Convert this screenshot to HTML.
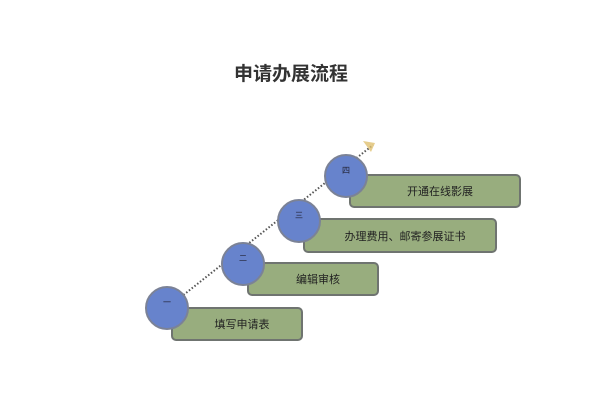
<!DOCTYPE html>
<html><head><meta charset="utf-8"><style>
html,body{margin:0;padding:0;background:#fff;}
body{width:615px;height:415px;position:relative;overflow:hidden;font-family:"Liberation Sans","Noto Sans CJK SC",sans-serif;}
.t{position:absolute;left:234px;top:59px;font-size:19px;font-weight:bold;color:#333;letter-spacing:0px;}
.b{position:absolute;background:#98ad7e;border:2px solid #6f7470;border-radius:5px;box-sizing:border-box;font-size:11px;color:#222;display:flex;align-items:center;justify-content:center;}
.c{position:absolute;width:44px;height:44px;border-radius:50%;background:#6783cc;border:2px solid #7b8296;box-sizing:border-box;font-size:8px;color:#223;text-align:center;}
</style></head><body>
<div class="t">申请办展流程</div>
<svg width="615" height="415" style="position:absolute;left:0;top:0">
<line x1="167" y1="308" x2="373" y2="145" stroke="#555" stroke-width="2" stroke-dasharray="1.5,2"/>
<polygon points="375,143 363,141 371,152" fill="#e0c070" opacity="0.8"/>
</svg>
<div class="b" style="left:171px;top:307px;width:132px;height:34px;padding-left:10px">填写申请表</div>
<div class="b" style="left:247px;top:262px;width:132px;height:34px;padding-left:10px">编辑审核</div>
<div class="b" style="left:303px;top:218px;width:194px;height:35px;padding-left:10px">办理费用、邮寄参展证书</div>
<div class="b" style="left:349px;top:174px;width:172px;height:34px;padding-left:10px">开通在线影展</div>
<div class="c" style="left:145px;top:286px;line-height:30px">一</div>
<div class="c" style="left:221px;top:242px;line-height:30px">二</div>
<div class="c" style="left:277px;top:199px;line-height:30px">三</div>
<div class="c" style="left:324px;top:154px;line-height:30px">四</div>
</body></html>
